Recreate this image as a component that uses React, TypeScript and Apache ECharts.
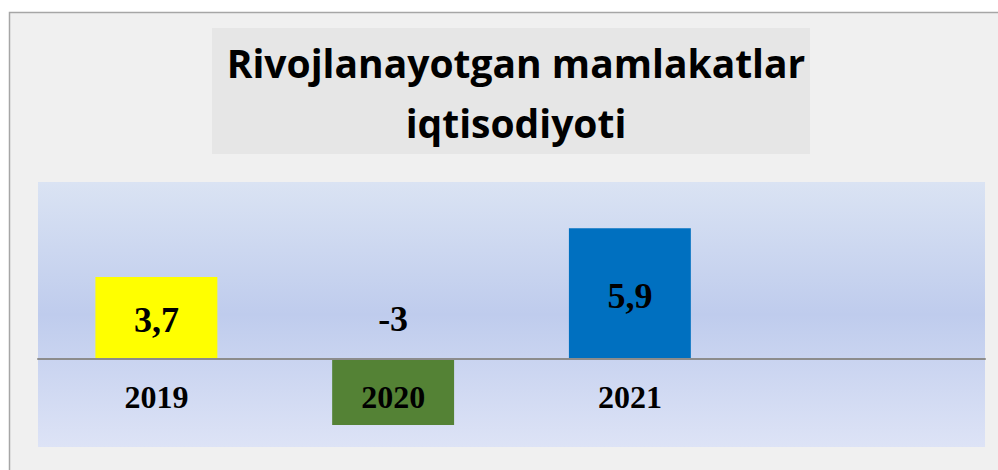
import React, { useEffect, useRef } from "react";
import * as echarts from "echarts";

const categories = ["2019", "2020", "2021", ""];
const values = [3.7, -3, 5.9, null];
const barColors = ["#ffff00", "#548235", "#0070c0", "#000000"];
const titleLines = ["Rivojlanayotgan mamlakatlar", "iqtisodiyoti"];
const yMin = -4;
const yMax = 8;

export default function App() {
  const ref = useRef<HTMLDivElement>(null);
  useEffect(() => {
    if (!ref.current) return;
    const chart = echarts.init(ref.current, undefined, { renderer: "svg" });
    const gridTop = 182;
    const gridBottom = 23;
    const gridHeight = 470 - gridTop - gridBottom;
    const zeroFromBottom = (gridHeight * (0 - yMin)) / (yMax - yMin);
    const seriesData = values.map((v, i) => ({
      value: v,
      itemStyle: { color: barColors[i] },
      label:
        v !== null && v < 0
          ? { position: "top", distance: 22 }
          : { position: "inside", offset: [0, 2] },
    }));
    chart.setOption({
      animation: false,
      backgroundColor: "#ffffff",
      graphic: [
        {
          type: "rect",
          z: -10,
          silent: true,
          shape: { x: 9.5, y: 12.5, width: 1000, height: 480 },
          style: { fill: "#f0f0f0", stroke: "#a6a6a6", lineWidth: 1.5 },
        },
        {
          type: "rect",
          z: -9,
          silent: true,
          shape: { x: 212, y: 28, width: 598, height: 126 },
          style: { fill: "#e6e6e6" },
        },
      ],
      title: {
        text: titleLines.join("\n"),
        left: 511,
        top: 27,
        textAlign: "center",
        textStyle: {
          fontFamily: "Open Sans",
          fontWeight: "bold",
          fontSize: 39,
          lineHeight: 60,
          color: "#000000",
        },
      },
      grid: {
        left: 38,
        right: 13,
        top: gridTop,
        bottom: gridBottom,
        show: true,
        borderWidth: 0,
        outerBoundsMode: "none",
        containLabel: false,
        backgroundColor: {
          type: "linear",
          x: 0,
          y: 0,
          x2: 0,
          y2: 1,
          colorStops: [
            { offset: 0, color: "#dae3f3" },
            { offset: 0.5, color: "#bfcced" },
            { offset: 1, color: "#dde3f6" },
          ],
        },
      },
      xAxis: {
        type: "category",
        data: categories,
        z: 10,
        position: "bottom",
        offset: -zeroFromBottom,
        axisLine: {
          onZero: false,
          lineStyle: { color: "#8c8c8c", width: 2 },
        },
        axisTick: { show: false },
        axisLabel: {
          margin: 22,
          color: "#000000",
          fontFamily: "Liberation Serif",
          fontWeight: "bold",
          fontSize: 32,
        },
        splitLine: { show: false },
      },
      yAxis: {
        type: "value",
        min: yMin,
        max: yMax,
        interval: 2,
        show: false,
        splitLine: { show: false },
      },
      series: [
        {
          type: "bar",
          data: seriesData,
          barWidth: "51.5%",
          label: {
            show: true,
            color: "#000000",
            fontFamily: "Liberation Serif",
            fontWeight: "bold",
            fontSize: 36,
            formatter: (p: any) => String(p.value).replace(".", ","),
          },
        },
      ],
    });
    return () => chart.dispose();
  }, []);
  return (
    <div
      ref={ref}
      style={{ position: "fixed", left: 0, top: 0, width: 998, height: 470 }}
    />
  );
}
